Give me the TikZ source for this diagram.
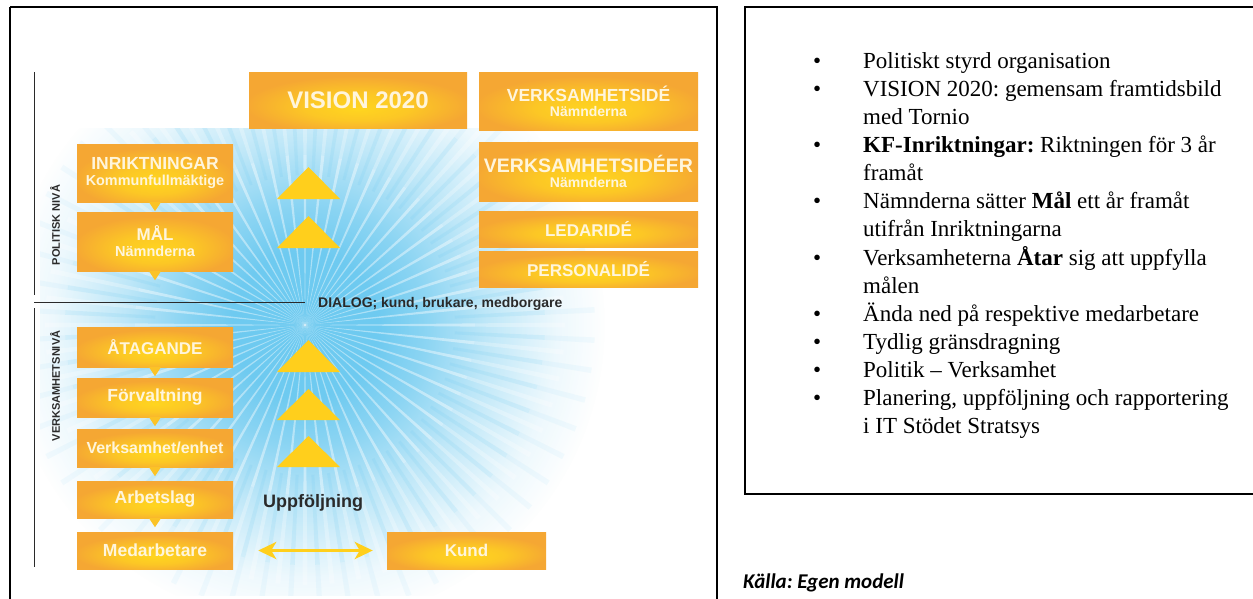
\documentclass[tikz,border=0pt]{standalone}
\usepackage{fontspec}
\setmainfont{Liberation Serif}
\newfontfamily\hvfont{Liberation Sans}
\newfontfamily\calfont{Carlito}
\usetikzlibrary{arrows.meta,fadings}
\definecolor{boxor}{HTML}{F5A733}
\definecolor{boxye}{HTML}{FFD51F}
\definecolor{triye}{HTML}{FFCF1C}
\definecolor{sunA}{HTML}{6ECAF0}
\definecolor{boxtxt}{HTML}{FFF5DC}
\definecolor{dk}{HTML}{2A2A2A}
\pgfdeclareradialshading{glow}{\pgfpoint{0bp}{-8bp}}{color(0bp)=(boxye); color(12bp)=(boxye!70!boxor); color(26bp)=(boxor); color(60bp)=(boxor)}
\pgfdeclareradialshading{sunmask}{\pgfpoint{0bp}{0bp}}{color(0bp)=(white); color(6bp)=(white); color(10bp)=(white!80!black); color(15bp)=(white!45!black); color(21bp)=(white!12!black); color(25bp)=(black); color(50bp)=(black)}
\pgfdeclarefading{sunfade}{\pgfuseshading{sunmask}}
\newcommand\fsz[1]{\fontsize{#1}{#1}\selectfont}
\newcommand\downptr[1]{\fill[boxye!60!boxor] ([xshift=-6pt]#1.south) -- ([xshift=6pt]#1.south) -- ([yshift=-9pt]#1.south) -- cycle;}
\newcommand\uptri[2]{\fill[triye] (277,#1) -- (340,#1) -- (308.5,#2) -- cycle;}
\newcommand\raywedge[3]{\fill (#1-.55:#2) -- (#1+.55:#2) -- (#1+.55:#3) -- (#1-.55:#3) -- cycle;}
\frenchspacing
\begin{document}
\begin{tikzpicture}[x=1pt,y=-1pt,
  obox/.style={shading=glow, text=boxtxt, font=\hvfont\bfseries, inner sep=0pt, align=center},
  lbox/.style={obox, minimum width=156, minimum height=38},
  rbox/.style={obox, minimum width=219},
  sidelabel/.style={rotate=90, text=dk, font=\hvfont\bfseries\fsz{11}, inner sep=0pt},
  levelline/.style={draw=dk, line width=1pt},
  frame/.style={draw=black, line width=1.8pt},
  dblarrow/.style={draw=triye, line width=3.5pt, {Stealth[length=18pt,width=17pt,inset=5pt]}-{Stealth[length=18pt,width=17pt,inset=5pt]}}
]
\useasboundingbox (0,0) rectangle (1253,598);
\fill[white] (0,0) rectangle (1253,598);

% sunburst background
\coordinate (sc) at (305,325);
\begin{scope}
  \clip (40,128) rectangle (716,595);
  \fill[sunA, path fading=sunfade] (sc) circle (300);
  \begin{scope}[shift={(sc)}]
    \foreach \a in {0,6,...,354} {
      \begin{scope}[white,opacity=.42]\raywedge{\a}{0}{170}\end{scope}
      \begin{scope}[white,opacity=.28]\raywedge{\a}{170}{260}\end{scope}
    }
    \foreach \a in {3,9,...,357} {
      \begin{scope}[sunA,opacity=.16]\raywedge{\a}{150}{240}\end{scope}
      \begin{scope}[sunA,opacity=.07]\raywedge{\a}{240}{290}\end{scope}
    }
  \end{scope}
\end{scope}

% frames
\draw[frame] (10,7) -- (717,7) -- (717,602);
\draw[frame] (10,7) -- (10,602);
\draw[frame] (1258,7) -- (745,7) -- (745,494) -- (1258,494);

% level lines and labels
\coordinate (pt1) at (34,72);
\coordinate (pt2) at (34,295);
\coordinate (pt3) at (34,308);
\coordinate (pt4) at (34,567);
\coordinate (pt5) at (34,302);
\draw[levelline] (pt1) -- (pt2);
\draw[levelline] (pt3) -- (pt4);
\node[anchor=base west, inner sep=0pt, text=dk, font=\hvfont\bfseries\fsz{14}] (dialog) at (318,307) {DIALOG; kund, brukare, medborgare};
\draw[levelline] (pt5) -- ([xshift=-13pt]dialog.west |- pt5);
\node[sidelabel] (pol) at (55,225) {POLITISK NIVÅ};
\node[sidelabel] (vnv) at (55,386) {VERKSAMHETSNIVÅ};

% top boxes
\node[obox, minimum width=218, minimum height=56, font=\hvfont\bfseries\fsz{24}] (vision) at (358,100) {VISION 2020};
\node[rbox, minimum height=58] (vi1) at (588.5,101) {{\fsz{17.5}VERKSAMHETSIDÉ}\\[3pt]{\fsz{14}Nämnderna}};
\node[rbox, minimum height=59] (vi2) at (588.5,171.5) {{\fsz{19.5}VERKSAMHETSIDÉER}\\[3pt]{\fsz{14}Nämnderna}};
\node[rbox, minimum height=36, font=\hvfont\bfseries\fsz{17}] (led) at (588.5,229) {LEDARIDÉ};
\node[rbox, minimum height=36, font=\hvfont\bfseries\fsz{17}] (pers) at (588.5,269) {PERSONALIDÉ};

% left column
\node[lbox, minimum height=58] (inr) at (155,173) {{\fsz{17.5}INRIKTNINGAR}\\[4pt]{\fsz{14.4}Kommunfullmäktige}};
\node[lbox, minimum height=59] (mal) at (155,241.5) {{\fsz{17}MÅL}\\[4pt]{\fsz{14.5}Nämnderna}};
\node[lbox, minimum height=40, font=\hvfont\bfseries\fsz{17}] (ata) at (155,347) {ÅTAGANDE};
\node[lbox, minimum height=39, font=\hvfont\bfseries\fsz{17.5}] (forv) at (155,397.5) {Förvaltning};
\node[lbox, font=\hvfont\bfseries\fsz{16}] (verk) at (155,448) {Verksamhet/enhet};
\node[lbox, minimum height=37, font=\hvfont\bfseries\fsz{17.5}] (arb) at (155,499.5) {Arbetslag};
\node[lbox, minimum height=37, font=\hvfont\bfseries\fsz{17.5}] (med) at (155,550.5) {Medarbetare};
\node[obox, minimum width=159, minimum height=37, font=\hvfont\bfseries\fsz{17}] (kund) at (466.5,550.5) {Kund};

\downptr{inr}
\downptr{mal}
\downptr{ata}
\downptr{forv}
\downptr{verk}
\downptr{arb}

% upward triangles
\uptri{199}{167}
\uptri{248}{216}
\uptri{372}{340}
\uptri{420}{389}
\uptri{467}{436}

\node[text=dk, font=\hvfont\bfseries\fsz{18}, inner sep=0pt] (uppf) at (313,503) {Uppföljning};
\draw[dblarrow] ([xshift=25pt]med.east) -- ([xshift=-14pt]kund.west);

% bullet list
\node[anchor=base west, inner sep=0pt, font=\fontsize{23}{28.15}\selectfont] (list) at (813,68) {%
\begin{tabular}[t]{@{}p{50pt}@{}l@{}}
• & Politiskt styrd organisation\\
• & VISION 2020: gemensam framtidsbild\\
  & med Tornio\\
• & \textbf{KF-Inriktningar:} Riktningen för 3 år\\
  & framåt\\
• & Nämnderna sätter \textbf{Mål} ett år framåt\\
  & utifrån Inriktningarna\\
• & Verksamheterna \textbf{Åtar} sig att uppfylla\\
  & målen\\
• & Ända ned på respektive medarbetare\\
• & Tydlig gränsdragning\\
• & Politik – Verksamhet\\
• & Planering, uppföljning och rapportering\\
  & i IT Stödet Stratsys
\end{tabular}};

\node[anchor=base west, inner sep=0pt, font=\calfont\bfseries\itshape\fsz{21}] (kalla) at (743,588) {Källa: Egen modell};
\end{tikzpicture}
\end{document}
